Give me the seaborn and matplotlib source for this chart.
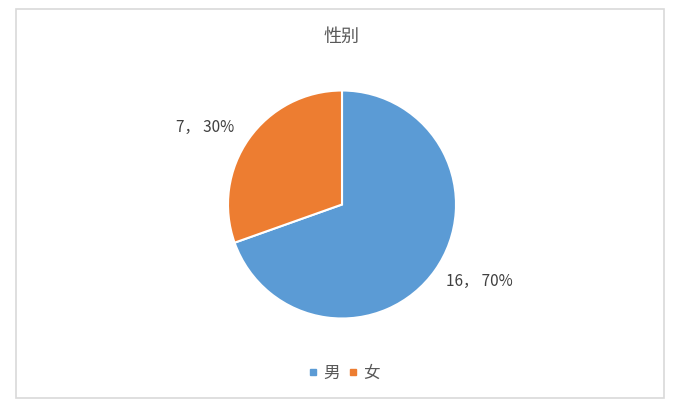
import numpy as np
import matplotlib
matplotlib.use("Agg")
import matplotlib.pyplot as plt
import seaborn as sns
from matplotlib.lines import Line2D
from matplotlib.patches import Rectangle

# data
categories = ["男", "女"]
counts = [16, 7]
colors = ["#5B9BD5", "#ED7D31"]
title = "性别"

sns.set_theme(style="white")
plt.rcParams['font.family'] = ['Noto Sans CJK SC', 'DejaVu Sans']

fig = plt.figure(figsize=(6.76, 4.05), dpi=100)
fig.patch.set_facecolor("white")

# pie axes: center ~(342, 204) px, radius ~114 px
ax = fig.add_axes([228 / 676, (405 - 204.5 - 114) / 405, 228 / 676, 228 / 405])
total = sum(counts)
labels = [f"{c}， {round(c / total * 100)}%" for c in counts]
wedges, _ = ax.pie(counts, colors=colors, startangle=90, counterclock=False,
                   wedgeprops={"edgecolor": "white", "linewidth": 1.5})

# data labels a bit outside each wedge (Excel "best fit" style)
for w, lab in zip(wedges, labels):
    ang = np.deg2rad((w.theta1 + w.theta2) / 2 + 6)
    ax.text(1.38 * np.cos(ang), 1.38 * np.sin(ang), lab, ha="center", va="center",
            fontsize=11, color="#404040")
ax.set_xlim(-1, 1)
ax.set_ylim(-1, 1)
ax.set_aspect("equal")
ax.axis("off")

fig.text(341 / 676, 1 - 37 / 405, title, ha="center", va="center",
         fontsize=13, color="#595959")

handles = [Line2D([], [], marker="s", linestyle="none", markersize=5,
                  markerfacecolor=c, markeredgecolor=c) for c in colors]
fig.legend(handles, categories, loc="center", bbox_to_anchor=(344 / 676, 1 - 373 / 405),
           ncol=2, frameon=False, fontsize=12, handlelength=0.6, handletextpad=0.3,
           columnspacing=0.5, labelcolor="#595959")

fig.patches.append(Rectangle((16 / 676, 7 / 405), 648 / 676, 389 / 405,
                             transform=fig.transFigure, fill=False,
                             edgecolor="#d9d9d9", linewidth=1.2))

fig.savefig("out.png", dpi=100)
